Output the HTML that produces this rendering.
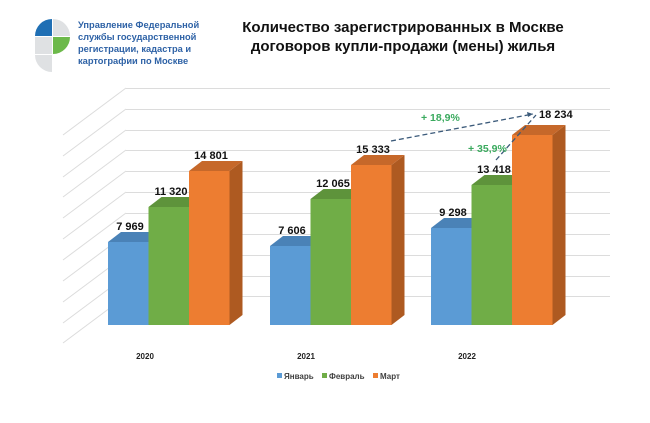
<!DOCTYPE html>
<html><head><meta charset="utf-8"><style>
html,body{margin:0;padding:0;background:#fff;}
svg{display:block;font-family:"Liberation Sans","DejaVu Sans",sans-serif;}
</style></head><body>
<svg width="650" height="423" viewBox="0 0 650 423" xmlns="http://www.w3.org/2000/svg">
<rect width="650" height="423" fill="#fff"/>
<path d="M35,36 A17,17 0 0 1 52,19 L52,36 Z" fill="#1f6fb4"/>
<path d="M53,19 A17,17 0 0 1 70,36 L53,36 Z" fill="#dfe1e3"/>
<path d="M53,37 L70,37 A17,17 0 0 1 53,54 Z" fill="#6cb94a"/>
<rect x="35" y="37" width="17" height="17" fill="#dfe1e3"/>
<path d="M35,55 L52,55 L52,72 A17,17 0 0 1 35,55 Z" fill="#dfe1e3"/>
<g font-size="9.3" font-weight="bold" fill="#2e62a6">
<text x="78" y="28">Управление Федеральной</text>
<text x="78" y="40">службы государственной</text>
<text x="78" y="52">регистрации, кадастра и</text>
<text x="78" y="64">картографии по Москве</text>
</g>
<g font-size="15" font-weight="bold" fill="#111" text-anchor="middle">
<text x="403" y="32">Количество зарегистрированных  в Москве</text>
<text x="403" y="51">договоров купли-продажи (мены) жилья</text>
</g>
<g stroke="#dcdcdc" stroke-width="1" fill="none">
<path d="M126,88.5H610M126,109.5H610M126,130.5H610M126,150.5H610M126,171.5H610M126,192.5H610M126,213.5H610M126,234.5H610M126,255.5H610M126,276.5H610M126,296.5H610"/>
<path d="M126,88L63,135M126,109L63,156M126,130L63,177M126,150L63,197M126,171L63,218M126,192L63,239M126,213L63,260M126,234L63,281M126,255L63,302M126,276L63,323M126,296L63,343"/>
</g>
<!-- 2020 -->
<polygon points="148.5,242 161.5,232 161.5,315 148.5,325" fill="#41719c"/>
<polygon points="108,242 121,232 161.5,232 148.5,242" fill="#4a82b7"/>
<rect x="108" y="242" width="40.5" height="83" fill="#5b9bd5"/>
<polygon points="189,207 202,197 202,315 189,325" fill="#507e32"/>
<polygon points="148.5,207 161.5,197 202,197 189,207" fill="#5e933b"/>
<rect x="148.5" y="207" width="40.5" height="118" fill="#70ad47"/>
<polygon points="229.5,171 242.5,161 242.5,315 229.5,325" fill="#ae5a21"/>
<polygon points="189,171 202,161 242.5,161 229.5,171" fill="#c6682a"/>
<rect x="189" y="171" width="40.5" height="154" fill="#ed7d31"/>
<!-- 2021 -->
<polygon points="310.5,246 323.5,236 323.5,315 310.5,325" fill="#41719c"/>
<polygon points="270,246 283,236 323.5,236 310.5,246" fill="#4a82b7"/>
<rect x="270" y="246" width="40.5" height="79" fill="#5b9bd5"/>
<polygon points="351,199 364,189 364,315 351,325" fill="#507e32"/>
<polygon points="310.5,199 323.5,189 364,189 351,199" fill="#5e933b"/>
<rect x="310.5" y="199" width="40.5" height="126" fill="#70ad47"/>
<polygon points="391.5,165 404.5,155 404.5,315 391.5,325" fill="#ae5a21"/>
<polygon points="351,165 364,155 404.5,155 391.5,165" fill="#c6682a"/>
<rect x="351" y="165" width="40.5" height="160" fill="#ed7d31"/>
<!-- 2022 -->
<polygon points="471.5,228 484.5,218 484.5,315 471.5,325" fill="#41719c"/>
<polygon points="431,228 444,218 484.5,218 471.5,228" fill="#4a82b7"/>
<rect x="431" y="228" width="40.5" height="97" fill="#5b9bd5"/>
<polygon points="512,185 525,175 525,315 512,325" fill="#507e32"/>
<polygon points="471.5,185 484.5,175 525,175 512,185" fill="#5e933b"/>
<rect x="471.5" y="185" width="40.5" height="140" fill="#70ad47"/>
<polygon points="552.5,135 565.5,125 565.5,315 552.5,325" fill="#ae5a21"/>
<polygon points="512,135 525,125 565.5,125 552.5,135" fill="#c6682a"/>
<rect x="512" y="135" width="40.5" height="190" fill="#ed7d31"/>
<g font-size="11" font-weight="bold" fill="#111" text-anchor="middle">
<text x="130" y="230">7 969</text>
<text x="171" y="195">11 320</text>
<text x="211" y="159">14 801</text>
<text x="292" y="234">7 606</text>
<text x="333" y="187">12 065</text>
<text x="373" y="153">15 333</text>
<text x="453" y="216">9 298</text>
<text x="494" y="173">13 418</text>
</g>
<text x="539" y="118" font-size="11" font-weight="bold" fill="#111">18 234</text>
<g stroke="#3b5a7a" stroke-width="1.3" stroke-dasharray="5,3" fill="none">
<path d="M391,141L533,114"/>
<path d="M496,160L536,115"/>
</g>
<path d="M533,114l-6,-2l1,5z" fill="#3b5a7a"/>
<g font-size="10.5" font-weight="bold" fill="#3aaa5e">
<text x="421" y="121">+ 18,9%</text>
<text x="468" y="152">+ 35,9%</text>
</g>
<g font-size="8" font-weight="bold" fill="#222" text-anchor="middle">
<text x="145" y="359">2020</text>
<text x="306" y="359">2021</text>
<text x="467" y="359">2022</text>
</g>
<g font-size="8" font-weight="bold" fill="#404040">
<rect x="277" y="373" width="5" height="5" fill="#5b9bd5"/><text x="284" y="379">Январь</text>
<rect x="322" y="373" width="5" height="5" fill="#70ad47"/><text x="329" y="379">Февраль</text>
<rect x="373" y="373" width="5" height="5" fill="#ed7d31"/><text x="380" y="379">Март</text>
</g>
</svg>
</body></html>
